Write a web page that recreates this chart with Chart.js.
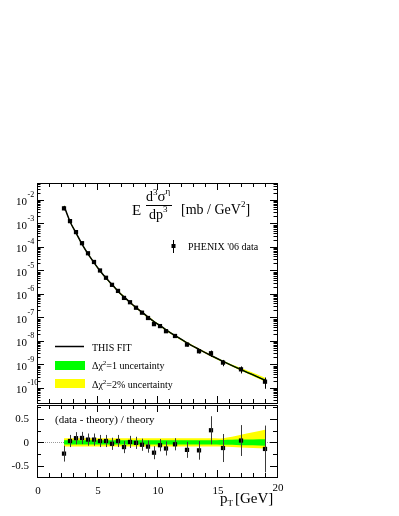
<!DOCTYPE html>
<html>
<head>
<meta charset="utf-8">
<script src="https://cdn.jsdelivr.net/npm/chart.js@4.4.1/dist/chart.umd.min.js"></script>
<style>
  html, body { margin: 0; padding: 0; background: #fff; }
  #wrap { position: relative; width: 399px; height: 516px; }
  #wrap canvas { position: absolute; left: 0; top: 0; }
</style>
</head>
<body>
<div id="wrap">
  <canvas id="spectrum-chart" width="399" height="516"></canvas>
  <canvas id="ratio-chart" width="399" height="516"></canvas>
</div>
<script>
  'use strict';

  // Measured points (pT in GeV).
  const pT = [2.25, 2.75, 3.25, 3.75, 4.25, 4.75, 5.25, 5.75, 6.25, 6.75, 7.25, 7.75, 8.25,
    8.75, 9.25, 9.75, 10.25, 10.75, 11.5, 12.5, 13.5, 14.5, 15.5, 17, 19];
  // E d3sigma/dp3 [mb / GeV^2]
  const xsec = [4.4e-3, 1.26e-3, 4.3e-4, 1.45e-4, 5.4e-5, 2.3e-5, 1.0e-5, 4.9e-6, 2.45e-6,
    1.35e-6, 6.8e-7, 4.45e-7, 2.6e-7, 1.6e-7, 9.5e-8, 5.2e-8, 4.3e-8, 2.6e-8, 1.63e-8,
    7.0e-9, 3.65e-9, 3.0e-9, 1.2e-9, 6.2e-10, 1.85e-10];
  // Fit curve at the same pT.
  const fit = [5.6e-3, 1.22e-3, 3.95e-4, 1.33e-4, 5.1e-5, 2.17e-5, 9.7e-6, 4.75e-6, 2.52e-6,
    1.31e-6, 7.5e-7, 4.4e-7, 2.62e-7, 1.68e-7, 1.05e-7, 6.7e-8, 4.55e-8, 3.0e-8, 1.7e-8,
    8.3e-9, 4.4e-9, 2.4e-9, 1.36e-9, 6.0e-10, 2.15e-10];
  // (data - theory) / theory and its error.
  const ratio = [-0.24, 0.03, 0.09, 0.095, 0.06, 0.06, 0.03, 0.03, -0.03, 0.03, -0.10, 0.01,
    -0.01, -0.05, -0.09, -0.22, -0.06, -0.13, -0.04, -0.16, -0.17, 0.26, -0.12, 0.04, -0.14];
  const ratioErr = [0.17, 0.13, 0.13, 0.13, 0.13, 0.13, 0.13, 0.13, 0.13, 0.13, 0.13, 0.13,
    0.13, 0.13, 0.13, 0.14, 0.13, 0.15, 0.13, 0.17, 0.20, 0.30, 0.30, 0.33, 0.50];
  // Uncertainty bands, relative to the fit.
  const greenUp = [0.045, 0.045, 0.045, 0.045, 0.045, 0.045, 0.045, 0.045, 0.045, 0.045,
    0.045, 0.045, 0.045, 0.045, 0.045, 0.045, 0.045, 0.045, 0.045, 0.045, 0.045, 0.045,
    0.05, 0.06, 0.07];
  const greenDown = [-0.045, -0.045, -0.045, -0.045, -0.045, -0.045, -0.045, -0.045, -0.045,
    -0.045, -0.045, -0.045, -0.045, -0.045, -0.045, -0.045, -0.045, -0.045, -0.045, -0.045,
    -0.045, -0.045, -0.05, -0.06, -0.07];
  const yellowUp = [0.09, 0.09, 0.09, 0.09, 0.09, 0.09, 0.09, 0.09, 0.09, 0.09, 0.09, 0.09,
    0.09, 0.09, 0.09, 0.09, 0.09, 0.09, 0.09, 0.09, 0.09, 0.09, 0.09, 0.165, 0.27];
  const yellowDown = [-0.09, -0.09, -0.09, -0.09, -0.09, -0.09, -0.09, -0.09, -0.09, -0.09,
    -0.09, -0.09, -0.09, -0.09, -0.09, -0.09, -0.09, -0.09, -0.09, -0.09, -0.09, -0.09,
    -0.09, -0.11, -0.13];
  // Axis labels.
  const xTickLabels = [0, 5, 10, 15, 20];
  const decadeExponents = [-2, -3, -4, -5, -6, -7, -8, -9, -10];
  const ratioTickLabels = [0.5, 0, -0.5];

  const COLORS = {
    green: '#00ff00',
    yellow: '#ffff00',
    ink: '#000000',
    bar: '#3a3a3a'
  };
  const SERIF = '"Liberation Serif", "DejaVu Serif", serif';

  /**
   * Draw a run of text pieces; each piece may be raised/lowered and sized.
   */
  function drawPieces(ctx, x, y, pieces) {
    ctx.textAlign = 'left';
    ctx.textBaseline = 'alphabetic';
    pieces.forEach(function (p) {
      ctx.font = p.size + 'px ' + SERIF;
      ctx.fillText(p.t, x, y + (p.dy || 0));
      x += ctx.measureText(p.t).width + (p.gap || 0);
    });
    return x;
  }

  /**
   * Inward ticks along the x axis of a frame.
   */
  function drawXTicks(ctx, area, xs) {
    for (let v = 0; v <= 20; v++) {
      const x = Math.round(xs.getPixelForValue(v)) + 0.5;
      const len = v % 5 === 0 ? 7 : 4;
      ctx.beginPath();
      ctx.moveTo(x, area.bottom); ctx.lineTo(x, area.bottom - len);
      ctx.moveTo(x, area.top); ctx.lineTo(x, area.top + len);
      ctx.stroke();
    }
  }

  function drawYTick(ctx, area, y, len) {
    y = Math.round(y) + 0.5;
    ctx.beginPath();
    ctx.moveTo(area.left, y); ctx.lineTo(area.left + len, y);
    ctx.moveTo(area.right, y); ctx.lineTo(area.right - len, y);
    ctx.stroke();
  }

  /**
   * Frame, ticks, labels and legend of the spectrum panel.
   */
  const spectrumDecor = {
    id: 'spectrumDecor',
    afterDatasetsDraw: function (chart) {
      const ctx = chart.ctx;
      const area = chart.chartArea;
      const xs = chart.scales.x;
      const ys = chart.scales.y;
      ctx.save();

      // error bars
      ctx.strokeStyle = COLORS.ink;
      ctx.lineWidth = 1;
      pT.forEach(function (v, i) {
        const x = Math.round(xs.getPixelForValue(v)) + 0.5;
        ctx.beginPath();
        ctx.moveTo(x, ys.getPixelForValue(xsec[i] * (1 + ratioErr[i])));
        ctx.lineTo(x, ys.getPixelForValue(xsec[i] * (1 - ratioErr[i])));
        ctx.stroke();
      });

      ctx.strokeRect(area.left + 0.5, area.top + 0.5, area.right - area.left, area.bottom - area.top);
      drawXTicks(ctx, area, xs);

      for (let d = -11; d <= -1; d++) {
        for (let m = 1; m <= 9; m++) {
          const v = m * Math.pow(10, d);
          if (v < ys.min || v > ys.max) continue;
          drawYTick(ctx, area, ys.getPixelForValue(v), m === 1 ? 7 : 3.5);
        }
      }

      ctx.fillStyle = COLORS.ink;
      decadeExponents.forEach(function (e) {
        const y = ys.getPixelForValue(Math.pow(10, e));
        ctx.font = '11px ' + SERIF;
        ctx.textAlign = 'right';
        ctx.textBaseline = 'alphabetic';
        ctx.fillText('10', 27, y + 5.5);
        ctx.font = '8px ' + SERIF;
        ctx.textAlign = 'left';
        ctx.fillText(String(e), 27.5, y - 2.5);
      });

      // y-axis title
      drawPieces(ctx, 132, 215, [{ t: 'E', size: 15 }]);
      drawPieces(ctx, 146, 201, [
        { t: 'd', size: 14 }, { t: '3', size: 9, dy: -6 }, { t: '\u03c3', size: 15 },
        { t: '\u03b7', size: 9, dy: -7 }
      ]);
      ctx.beginPath();
      ctx.moveTo(146, 205.5); ctx.lineTo(172, 205.5);
      ctx.stroke();
      drawPieces(ctx, 149, 219, [{ t: 'dp', size: 14 }, { t: '3', size: 9, dy: -7 }]);
      drawPieces(ctx, 181, 214, [
        { t: '[mb / GeV', size: 14 }, { t: '2', size: 9, dy: -7 }, { t: ']', size: 14 }
      ]);

      // PHENIX legend entry
      ctx.beginPath();
      ctx.moveTo(173.5, 240); ctx.lineTo(173.5, 253);
      ctx.stroke();
      ctx.fillRect(171.5, 244, 4, 4);
      drawPieces(ctx, 188, 250, [{ t: 'PHENIX \'06 data', size: 10 }]);

      // fit legend
      ctx.lineWidth = 1.5;
      ctx.beginPath();
      ctx.moveTo(55, 346.5); ctx.lineTo(84, 346.5);
      ctx.stroke();
      drawPieces(ctx, 92, 351, [{ t: 'THIS FIT', size: 10 }]);
      ctx.fillStyle = COLORS.green;
      ctx.fillRect(55, 361, 30, 9);
      ctx.fillStyle = COLORS.yellow;
      ctx.fillRect(55, 379, 30, 9);
      ctx.fillStyle = COLORS.ink;
      drawPieces(ctx, 92, 369, [
        { t: '\u0394\u03c7', size: 10 }, { t: '2', size: 7, dy: -4 }, { t: '=1 uncertainty', size: 10 }
      ]);
      drawPieces(ctx, 92, 388, [
        { t: '\u0394\u03c7', size: 10 }, { t: '2', size: 7, dy: -4 }, { t: '=2% uncertainty', size: 10 }
      ]);
      ctx.restore();
    }
  };

  /**
   * Frame, ticks, labels and error bars of the ratio panel.
   */
  const ratioDecor = {
    id: 'ratioDecor',
    beforeDatasetsDraw: function (chart) {
      const ctx = chart.ctx;
      const area = chart.chartArea;
      const y0 = Math.round(chart.scales.y.getPixelForValue(0)) + 0.5;
      ctx.save();
      ctx.strokeStyle = '#9a9a9a';
      ctx.lineWidth = 1;
      ctx.setLineDash([1, 1]);
      ctx.beginPath();
      ctx.moveTo(area.left, y0); ctx.lineTo(area.right, y0);
      ctx.stroke();
      ctx.restore();
    },
    afterDatasetsDraw: function (chart) {
      const ctx = chart.ctx;
      const area = chart.chartArea;
      const xs = chart.scales.x;
      const ys = chart.scales.y;
      ctx.save();

      ctx.strokeStyle = COLORS.bar;
      ctx.lineWidth = 1;
      pT.forEach(function (v, i) {
        const x = Math.round(xs.getPixelForValue(v)) + 0.5;
        ctx.beginPath();
        ctx.moveTo(x, ys.getPixelForValue(ratio[i] + ratioErr[i]));
        ctx.lineTo(x, ys.getPixelForValue(ratio[i] - ratioErr[i]));
        ctx.stroke();
      });

      ctx.strokeStyle = COLORS.ink;
      ctx.strokeRect(area.left + 0.5, area.top + 0.5, area.right - area.left, area.bottom - area.top);
      drawXTicks(ctx, area, xs);
      for (let k = -3; k <= 3; k++) {
        const v = k * 0.25;
        if (v < ys.min || v > ys.max) continue;
        drawYTick(ctx, area, ys.getPixelForValue(v), k % 2 === 0 ? 7 : 4);
      }

      ctx.fillStyle = COLORS.ink;
      ctx.font = '11px ' + SERIF;
      ctx.textBaseline = 'middle';
      ctx.textAlign = 'right';
      ratioTickLabels.forEach(function (v) {
        ctx.fillText(String(v), 29, ys.getPixelForValue(v) + 0.5);
      });
      ctx.textAlign = 'center';
      ctx.textBaseline = 'alphabetic';
      xTickLabels.forEach(function (v) {
        ctx.fillText(String(v), xs.getPixelForValue(v) + 1, v === 20 ? 491 : 494);
      });

      drawPieces(ctx, 55, 423, [{ t: '(data - theory) / theory', size: 11 }]);
      drawPieces(ctx, 220, 503, [
        { t: 'p', size: 15 }, { t: 'T', size: 9, dy: 3, gap: 2 }, { t: '[GeV]', size: 15 }
      ]);
      ctx.restore();
    }
  };

  function points(values) {
    return pT.map(function (x, i) { return { x: x, y: values[i] }; });
  }

  function bandSet(values, fill, color) {
    return {
      data: points(values),
      borderWidth: 0,
      pointRadius: 0,
      tension: 0.3,
      fill: fill,
      backgroundColor: color
    };
  }

  function scaled(base, rel) {
    return base.map(function (v, i) { return v * (1 + rel[i]); });
  }

  function markerSet(values) {
    return {
      data: points(values),
      showLine: false,
      pointStyle: 'rect',
      pointRadius: 3,
      pointBackgroundColor: COLORS.ink,
      pointBorderWidth: 0
    };
  }

  function baseOptions(padTop, padBottom) {
    return {
      responsive: false,
      animation: false,
      events: [],
      layout: { padding: { left: 37, right: 122, top: padTop, bottom: padBottom } },
      plugins: { legend: { display: false }, tooltip: { enabled: false } }
    };
  }

  /**
   * Upper panel: spectrum on log scale.
   */
  function renderSpectrum() {
    const opts = baseOptions(183, 113);
    opts.scales = {
      x: { type: 'linear', min: 0, max: 20, display: false },
      y: { type: 'logarithmic', min: Math.pow(10, -10.64), max: Math.pow(10, -1.277), display: false }
    };
    new Chart(document.getElementById('spectrum-chart').getContext('2d'), {
      type: 'line',
      data: {
        datasets: [
          markerSet(xsec),
          {
            data: points(fit),
            borderColor: COLORS.ink,
            borderWidth: 1.5,
            pointRadius: 0,
            tension: 0.3,
            fill: false
          },
          bandSet(scaled(fit, greenUp), false, COLORS.green),
          bandSet(scaled(fit, greenDown), '-1', COLORS.green),
          bandSet(scaled(fit, yellowUp), false, COLORS.yellow),
          bandSet(scaled(fit, yellowDown), '-1', COLORS.yellow)
        ]
      },
      options: opts,
      plugins: [spectrumDecor]
    });
  }

  /**
   * Lower panel: (data - theory) / theory.
   */
  function renderRatio() {
    const opts = baseOptions(405, 39);
    opts.scales = {
      x: { type: 'linear', min: 0, max: 20, display: false },
      y: { type: 'linear', min: -0.74, max: 0.80, display: false }
    };
    new Chart(document.getElementById('ratio-chart').getContext('2d'), {
      type: 'line',
      data: {
        datasets: [
          markerSet(ratio),
          bandSet(greenUp, false, COLORS.green),
          bandSet(greenDown, '-1', COLORS.green),
          bandSet(yellowUp, false, COLORS.yellow),
          bandSet(yellowDown, '-1', COLORS.yellow)
        ]
      },
      options: opts,
      plugins: [ratioDecor]
    });
  }

  renderSpectrum();
  renderRatio();
</script>
</body>
</html>
